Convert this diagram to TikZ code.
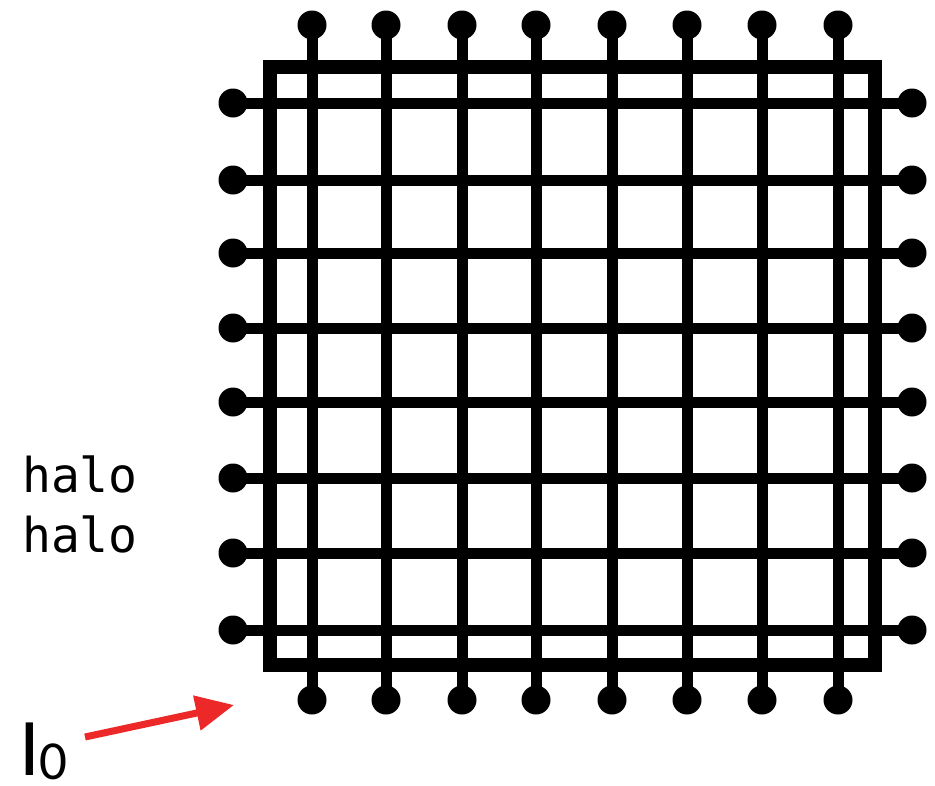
\documentclass[tikz,border=0pt]{standalone}
\usepackage{fontspec}
\newfontfamily\monofam{DejaVu Sans Mono}
\newfontfamily\labfam{Carlito}
\usetikzlibrary{arrows.meta}
\definecolor{arrred}{RGB}{236,40,40}
\tikzset{
  pin/.style={circle,fill=black,inner sep=0pt,minimum size=29pt},
  wire/.style={line width=11pt,black},
  frame/.style={line width=14pt,black,line join=miter},
  halotext/.style={anchor=base west,inner sep=0pt,font=\monofam\fontsize{48}{58}\selectfont},
  pointer/.style={arrred,line width=7pt,-{Triangle[length=38pt,width=34pt]}}
}
\begin{document}
\begin{tikzpicture}[x=1pt,y=-1pt]
\useasboundingbox (0,0) rectangle (935,785);
\fill[white] (0,0) rectangle (935,785);
% pins
\foreach \i/\x in {1/312,2/386,3/462,4/536,5/612,6/687,7/762,8/838}{
  \node[pin] (t\i) at (\x,25) {};
  \node[pin] (b\i) at (\x,700) {};
}
\foreach \i/\y in {1/103,2/180,3/253,4/328,5/402,6/478,7/553,8/630}{
  \node[pin] (l\i) at (233,\y) {};
  \node[pin] (r\i) at (912,\y) {};
}
% wires
\foreach \i in {1,...,8}{
  \draw[wire] (t\i.center) -- (b\i.center);
  \draw[wire] (l\i.center) -- (r\i.center);
}
% frame
\draw[frame] (270,67) rectangle (875,665);
% labels
\node[halotext] (h1) at (22,492) {halo};
\node[halotext] (h2) at (22,552) {halo};
\node[anchor=base west,inner sep=0pt,font=\labfam\fontsize{82}{82}\selectfont] (lab) at (19,775)
  {I\raisebox{-4pt}{\fontsize{55}{55}\selectfont 0}};
\coordinate (arrS) at (85,737);
\coordinate (arrE) at (234,705);
\draw[pointer] (arrS) -- (arrE);
\end{tikzpicture}
\end{document}
